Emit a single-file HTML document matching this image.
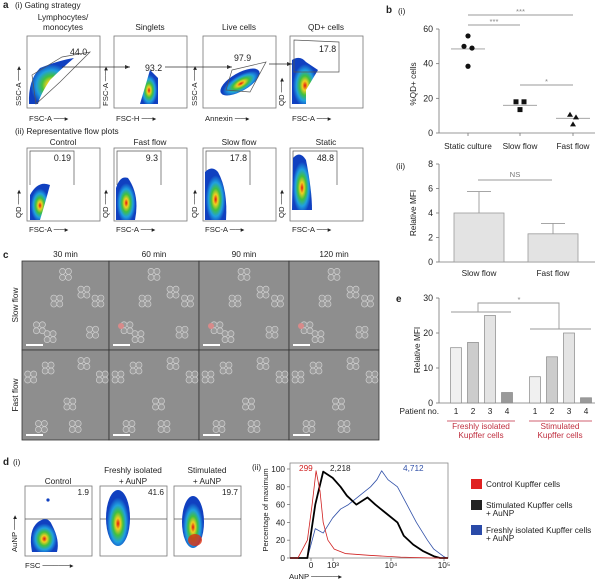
<!DOCTYPE html>
<html><head><meta charset="utf-8"><style>
html,body{margin:0;padding:0;background:#fff}
svg{display:block;font-family:"Liberation Sans",sans-serif}
</style></head><body>
<svg id="fig" width="600" height="582" viewBox="0 0 600 582" xmlns="http://www.w3.org/2000/svg">
<defs>
<radialGradient id="dens" cx="50%" cy="60%" r="55%">
<stop offset="0" stop-color="#e01010"/><stop offset="0.18" stop-color="#f0d020"/><stop offset="0.38" stop-color="#40c040"/><stop offset="0.6" stop-color="#20a0e0"/><stop offset="0.85" stop-color="#1040c0"/><stop offset="1" stop-color="#1040c0"/>
</radialGradient>
</defs>
<g id="static"></g>
<g id="panelC"></g>
<g id="panelB"></g>
<g id="panelE"></g>
<g id="panelD2"></g>
</svg>
<script>
// ---- panel b(i) data ----
const bCats = ["Static culture","Slow flow","Fast flow"];
const bStatic = [56, 50, 49, 38.5];
const bSlow = [18, 18, 13.5];
const bFast = [10.5, 9, 5];
const bMeans = [48.5, 16, 8.5];
const bTicks = [0, 20, 40, 60];
// ---- panel b(ii) data ----
const b2Cats = ["Slow flow","Fast flow"];
const b2Vals = [4.0, 2.3];
const b2Err = [1.75, 0.85];
const b2Ticks = [0, 2, 4, 6, 8];
// ---- panel e data ----
const ePatients = ["1","2","3","4"];
const eFresh = [15.8, 17.3, 25, 3];
const eStim = [7.5, 13.2, 20, 1.5];
const eTicks = [0, 10, 20, 30];
// ---- panel d(ii) histograms (x in 0..100 axis units) ----
const redX = [0, 5, 11, 14, 16.5, 19, 21, 24, 28, 35, 50, 70, 90, 100];
const redY = [0, 0, 20, 60, 98, 75, 40, 20, 10, 5, 3, 1, 0, 0];
const blackX = [0, 11, 16, 21, 27, 32, 36, 42, 49, 54, 61, 68, 72, 78, 84, 91, 95, 100];
const blackY = [0, 0, 60, 97, 90, 80, 70, 60, 68, 60, 50, 40, 25, 15, 8, 2, 0, 0];
const blueX = [0, 11, 16, 21, 27, 32, 37, 44, 51, 55, 58, 62, 68, 74, 80, 87, 91, 97, 99, 100];
const blueY = [0, 0, 33, 28, 45, 55, 60, 70, 80, 88, 98, 88, 80, 60, 40, 20, 10, 2, 0, 0];
const histTicks = [0, 20, 40, 60, 80, 100];

const NS = "http://www.w3.org/2000/svg";
function el(parent, tag, attrs, text){
  const e = document.createElementNS(NS, tag);
  for (const k in attrs) e.setAttribute(k, attrs[k]);
  if (text !== undefined) e.textContent = text;
  parent.appendChild(e);
  return e;
}
function T(parent, x, y, s, size, opts){
  opts = opts || {};
  const t = el(parent, "text", {x:x, y:y, "font-size":(size||9)*1.1, fill:opts.fill||"#222", "text-anchor":opts.anchor||"start"}, s);
  if (opts.rot) t.setAttribute("transform", `rotate(-90 ${x} ${y})`);
  if (opts.bold) t.setAttribute("font-weight","bold");
  
  
  return t;
}
const S = document.getElementById("static");

// ================= Panel a =================
T(S, 3, 8, "a", 9, {bold:true, name:'panel-a-letter'});
T(S, 15, 8, "(i) Gating strategy", 7.5, {name:'gating-title'});
const aBoxes = [27, 114, 203, 290];
const aTitles = [["Lymphocytes/","monocytes"],["Singlets"],["Live cells"],["QD+ cells"]];
const aX = ["FSC-A", "FSC-H", "Annexin", "FSC-A"];
const aY = ["SSC-A", "FSC-A", "SSC-A", "QD"];
aBoxes.forEach((x,i)=>{
  const g = el(S,"g",{});
  
  
  el(g,"rect",{x:x,y:36,width:73,height:72,fill:"#fff",stroke:"#777","stroke-width":0.8});
  if (aTitles[i].length===2){ T(g,x+36,20,aTitles[i][0],7.5,{anchor:"middle",name:'plot-title'}); T(g,x+36,30,aTitles[i][1],7.5,{anchor:"middle",name:'plot-title'}); }
  else T(g,x+36,30,aTitles[i][0],7.5,{anchor:"middle",name:'plot-title'});
  T(g,x+2,121,aX[i]+" ──▸",7,{name:'x-axis-label'});
  T(g,x-6,106,aY[i]+" ──▸",7,{rot:true,name:'y-axis-label'});
});
el(S,"path",{d:"M29 104 Q28 80 40 68 Q60 60 74 58 Q60 70 50 80 Q40 95 38 104 Z",fill:"url(#dens)"});
el(S,"path",{d:"M32 75 L62 57 L90 52 L60 82 L36 104 Z",fill:"none",stroke:"#555","stroke-width":0.7});
T(S,70,55,"44.0",8,{name:'gate-value'});
el(S,"path",{d:"M140 104 L150 70 L158 78 L158 104 Z",fill:"url(#dens)"});
T(S,145,71,"93.2",8,{name:'gate-value'});
el(S,"ellipse",{cx:240,cy:82,rx:22,ry:9,transform:"rotate(-30 240 82)",fill:"url(#dens)"});
el(S,"path",{d:"M232 70 L266 62 L250 92 L226 90 Z",fill:"none",stroke:"#555","stroke-width":0.7});
T(S,234,61,"97.9",8,{name:'gate-value'});
el(S,"path",{d:"M292 60 Q300 55 306 62 L318 70 Q312 80 306 90 L306 104 L292 104 Z",fill:"url(#dens)"});
el(S,"path",{d:"M294 72 L294 40 L339 42 L339 72 Z",fill:"none",stroke:"#555","stroke-width":0.7});
T(S,319,52,"17.8",8,{name:'gate-value'});
[[62,67,130],[165,67,232],[269,64,292]].forEach(a=>{
  el(S,"line",{x1:a[0],y1:a[1],x2:a[2],y2:a[1],stroke:"#333","stroke-width":0.8});
  el(S,"path",{d:`M${a[2]} ${a[1]} l-5 -2 l0 4 Z`,fill:"#333"});
});
T(S,15,134,"(ii) Representative flow plots",7.5,{name:'representative-title'});
const a2Titles = ["Control","Fast flow","Slow flow","Static"];
const a2Vals = ["0.19","9.3","17.8","48.8"];
aBoxes.forEach((x,i)=>{
  const g = el(S,"g",{});
  
  
  el(g,"rect",{x:x,y:148,width:73,height:73,fill:"#fff",stroke:"#777","stroke-width":0.8});
  T(g,x+36,145,a2Titles[i],7.5,{anchor:"middle",name:'plot-title'});
  el(g,"path",{d:`M${x+3} 185 L${x+3} 151 L${x+47} 151 L${x+47} 185`,fill:"none",stroke:"#555","stroke-width":0.7});
  T(g,x+44,161,a2Vals[i],8,{anchor:"end",name:'gate-value'});
  T(g,x+2,232,"FSC-A ──▸",7,{name:'x-axis-label'});
  T(g,x-6,218,"QD ──▸",7,{rot:true,name:'y-axis-label'});
});
el(S,"path",{d:"M30 220 L30 195 Q38 180 50 185 Q46 200 40 220 Z",fill:"url(#dens)"});
el(S,"path",{d:"M116 220 L116 188 Q120 175 128 178 Q140 195 135 220 Z",fill:"url(#dens)"});
el(S,"path",{d:"M205 220 L205 172 Q212 165 218 172 Q228 190 226 220 Z",fill:"url(#dens)"});
el(S,"path",{d:"M292 210 L293 158 Q300 150 306 160 Q312 190 312 210 Z",fill:"url(#dens)"});

// ================= Panel c =================
const C = document.getElementById("panelC");
T(C,3,258,"c",9,{bold:true,name:'panel-c-letter'});
const cCols = [22,109,199,289,379];
const cTimes = ["30 min","60 min","90 min","120 min"];
for (let c=0;c<4;c++){
  T(C,(cCols[c]+cCols[c+1])/2,257,cTimes[c],7.5,{anchor:"middle",name:'time-heading'});
  for (let r=0;r<2;r++){
    const y0 = r===0?261:350, h = r===0?89:90;
    const w = cCols[c+1]-cCols[c];
    const g = el(C,"g",{});
    
    
    el(g,"rect",{x:cCols[c],y:y0,width:w,height:h,fill:"#8e8e8e",stroke:"#333","stroke-width":0.8});
    const seeds = r===0 ? [[0.5,0.15],[0.7,0.35],[0.85,0.45],[0.2,0.75],[0.8,0.8],[0.3,0.85],[0.4,0.45]] : [[0.3,0.2],[0.7,0.15],[0.2,0.85],[0.55,0.6],[0.6,0.85],[0.9,0.3],[0.1,0.3]];
    seeds.forEach((s,k)=>{
      const cx = cCols[c]+s[0]*w, cy = y0+s[1]*h;
      for (let q=0;q<4;q++){
        el(g,"circle",{cx:cx+((q%2)*6-3)+(k%3),cy:cy+(q>1?3:-3),r:3,fill:"#9a9a9a",stroke:"#d0d0d0","stroke-width":0.7});
      }
    });
    if (r===0 && c>0) el(g,"circle",{cx:cCols[c]+12,cy:y0+65,r:3,fill:"#d88a8a"});
    el(g,"rect",{x:cCols[c]+4,y:y0+h-6,width:17,height:2,fill:"#fff"});
  }
}
T(C,18,305,"Slow flow",7.5,{anchor:"middle",rot:true,name:'row-label-slow'});
T(C,18,395,"Fast flow",7.5,{anchor:"middle",rot:true,name:'row-label-fast'});

// ================= Panel d(i) =================
T(S,3,465,"d",9,{bold:true,name:'panel-d-letter'});
T(S,13,465,"(i)",7.5,{name:'d-i-label'});
const dBoxes = [25,100,174];
const dT1 = ["","Freshly isolated","Stimulated"];
const dT2 = ["Control","+ AuNP","+ AuNP"];
const dVals = ["1.9","41.6","19.7"];
dBoxes.forEach((x,i)=>{
  const g = el(S,"g",{});
  
  
  el(g,"rect",{x:x,y:486,width:67,height:70,fill:"#fff",stroke:"#777","stroke-width":0.8});
  el(g,"line",{x1:x,y1:519,x2:x+67,y2:519,stroke:"#555","stroke-width":0.7});
  if (dT1[i]) T(g,x+33,473,dT1[i],7.5,{anchor:"middle",name:'plot-title'});
  T(g,x+33,484,dT2[i],7.5,{anchor:"middle",name:'plot-title'});
  T(g,x+64,495,dVals[i],7.5,{anchor:"end",name:'gate-value'});
});
el(S,"path",{d:"M32 552 Q28 530 38 522 Q48 515 52 525 Q60 540 57 552 Z",fill:"url(#dens)"});
el(S,"circle",{cx:48,cy:500,r:1.6,fill:"#1040c0"});
el(S,"ellipse",{cx:118,cy:518,rx:12,ry:28,fill:"url(#dens)"});
el(S,"ellipse",{cx:193,cy:522,rx:11,ry:26,fill:"url(#dens)"});
el(S,"ellipse",{cx:195,cy:540,rx:7,ry:6,fill:"#e03010",opacity:0.8});
T(S,17,552,"AuNP ──▸",7,{rot:true,name:'y-axis-label'});
T(S,25,568,"FSC ─────▸",7,{name:'x-axis-label'});

// ================= Panel b =================
const B = document.getElementById("panelB");
T(B,386,13,"b",9,{bold:true,name:'panel-b-letter'});
T(B,398,14,"(i)",7.5,{name:'b-i-label'});
const byScale = v => 133 - v*104/60;
const bxPos = i => [468,520,573][i];
el(B,"line",{x1:439,y1:29,x2:439,y2:133,stroke:"#777","stroke-width":0.8});
el(B,"line",{x1:439,y1:133,x2:595,y2:133,stroke:"#777","stroke-width":0.8});
bTicks.forEach(t=>{
  el(B,"line",{x1:436,y1:byScale(t),x2:439,y2:byScale(t),stroke:"#777","stroke-width":0.8});
  T(B,433,byScale(t)+3,String(t),8,{anchor:"end",name:'y-tick'});
});
bCats.forEach((c,i)=>{
  el(B,"line",{x1:bxPos(i),y1:133,x2:bxPos(i),y2:136,stroke:"#777","stroke-width":0.8});
  T(B,bxPos(i),149,c,7.5,{anchor:"middle",name:'x-tick'});
  el(B,"line",{x1:bxPos(i)-17,y1:byScale(bMeans[i]),x2:bxPos(i)+17,y2:byScale(bMeans[i]),stroke:"#999","stroke-width":0.9});
});
T(B,416,84,"%QD+ cells",7.5,{anchor:"middle",rot:true,name:'y-axis-title'});
const stOff=[0,-4,4,0], slOff=[-4,4,0], faOff=[-3,3,0];
bStatic.forEach((v,i)=>{ const c=el(B,"circle",{cx:bxPos(0)+stOff[i],cy:byScale(v),r:2.6,fill:"#111"});   });
bSlow.forEach((v,i)=>{ const c=el(B,"rect",{x:bxPos(1)+slOff[i]-2.5,y:byScale(v)-2.5,width:5,height:5,fill:"#111"});   });
bFast.forEach((v,i)=>{ const x=bxPos(2)+faOff[i], y=byScale(v); const c=el(B,"path",{d:`M${x} ${y-3} L${x+3} ${y+2} L${x-3} ${y+2} Z`,fill:"#111"});   });
[[468,573,15,"***"],[468,520,25,"***"],[520,573,85,"*"]].forEach(s=>{
  el(B,"line",{x1:s[0],y1:s[2],x2:s[1],y2:s[2],stroke:"#999","stroke-width":0.9});
  T(B,(s[0]+s[1])/2,s[2]-1,s[3],7,{anchor:"middle",fill:"#888",name:'significance'});
});
T(B,396,169,"(ii)",7.5,{name:'b-ii-label'});
const b2Scale = v => 262 - v*98/8;
const b2x = i => [454,528][i];
el(B,"line",{x1:439,y1:164,x2:439,y2:262,stroke:"#777","stroke-width":0.8});
el(B,"line",{x1:439,y1:262,x2:595,y2:262,stroke:"#777","stroke-width":0.8});
b2Ticks.forEach(t=>{
  el(B,"line",{x1:436,y1:b2Scale(t),x2:439,y2:b2Scale(t),stroke:"#777","stroke-width":0.8});
  T(B,433,b2Scale(t)+3,String(t),8,{anchor:"end",name:'y-tick'});
});
T(B,416,213,"Relative  MFI",7.5,{anchor:"middle",rot:true,name:'y-axis-title'});
b2Vals.forEach((v,i)=>{
  const x=b2x(i);
  el(B,"line",{x1:x+25,y1:b2Scale(v+b2Err[i]),x2:x+25,y2:b2Scale(v),stroke:"#999","stroke-width":0.9});
  el(B,"line",{x1:x+13,y1:b2Scale(v+b2Err[i]),x2:x+37,y2:b2Scale(v+b2Err[i]),stroke:"#999","stroke-width":0.9});
  const r=el(B,"rect",{x:x,y:b2Scale(v),width:50,height:262-b2Scale(v),fill:"#e3e3e3",stroke:"#999","stroke-width":0.8});
  
  
  T(B,x+25,276,b2Cats[i],7.5,{anchor:"middle",name:'x-tick'});
});
el(B,"line",{x1:478,y1:180,x2:552,y2:180,stroke:"#999","stroke-width":0.9});
T(B,515,177,"NS",7,{anchor:"middle",fill:"#777",name:'ns-label'});

// ================= Panel e =================
const E = document.getElementById("panelE");
T(E,396,302,"e",9,{bold:true,name:'panel-e-letter'});
const eScale = v => 403 - v*105/30;
const eX1 = [456,473,490,507], eX2 = [535,552,569,586];
const eFill = ["#f0f0f0","#cccccc","#e4e4e4","#9a9a9a"];
el(E,"line",{x1:439,y1:298,x2:439,y2:403,stroke:"#777","stroke-width":0.8});
el(E,"line",{x1:439,y1:403,x2:595,y2:403,stroke:"#777","stroke-width":0.8});
eTicks.forEach(t=>{
  el(E,"line",{x1:436,y1:eScale(t),x2:439,y2:eScale(t),stroke:"#777","stroke-width":0.8});
  T(E,433,eScale(t)+3,String(t),8,{anchor:"end",name:'y-tick'});
});
T(E,420,350,"Relative MFI",7.5,{anchor:"middle",rot:true,name:'y-axis-title'});
function eBars(vals, xs, grp){
  vals.forEach((v,i)=>{
    const r=el(E,"rect",{x:xs[i]-5.5,y:eScale(v),width:11,height:403-eScale(v),fill:eFill[i],stroke:"#888","stroke-width":0.7});
    
    
    T(E,xs[i],414,ePatients[i],7.5,{anchor:"middle",name:'x-tick'});
  });
}
eBars(eFresh,eX1,'fresh'); eBars(eStim,eX2,'stimulated');
T(E,439,414,"Patient no.",7.5,{anchor:"end",name:'x-axis-title'});
el(E,"line",{x1:447,y1:421,x2:515,y2:421,stroke:"#d06070","stroke-width":0.9});
el(E,"line",{x1:529,y1:421,x2:592,y2:421,stroke:"#d06070","stroke-width":0.9});
T(E,481,429,"Freshly isolated",7.5,{anchor:"middle",fill:"#c03040",name:'group-label-fresh'});
T(E,481,438,"Kupffer cells",7.5,{anchor:"middle",fill:"#c03040",name:'group-label-fresh'});
T(E,560,429,"Stimulated",7.5,{anchor:"middle",fill:"#c03040",name:'group-label-stim'});
T(E,560,438,"Kupffer cells",7.5,{anchor:"middle",fill:"#c03040",name:'group-label-stim'});
el(E,"path",{d:"M451 312 L511 312 M530 329 L591 329 M478 312 L478 303 L559 303 L559 329",fill:"none",stroke:"#999","stroke-width":0.9});
T(E,519,302,"*",7,{anchor:"middle",fill:"#888",name:'significance'});

// ================= Panel d(ii) =================
const D = document.getElementById("panelD2");
T(D,252,470,"(ii)",7.5,{name:'d-ii-label'});
const hx = v => 290 + v*158/100;
const hy = v => 558 - v*89/100;
el(D,"rect",{x:290,y:463,width:158,height:95,fill:"#fff",stroke:"#888","stroke-width":0.8});
histTicks.forEach(t=>{
  el(D,"line",{x1:287,y1:hy(t),x2:290,y2:hy(t),stroke:"#777","stroke-width":0.8});
  T(D,285,hy(t)+3,String(t),7.5,{anchor:"end",name:'y-tick'});
});
[[311,"0"],[333,"10³"],[391,"10⁴"],[444,"10⁵"]].forEach(t=>{
  el(D,"line",{x1:t[0],y1:558,x2:t[0],y2:561,stroke:"#777","stroke-width":0.8});
  T(D,t[0],568,t[1],7.5,{anchor:"middle",name:'x-tick'});
});
T(D,289,579,"AuNP ─────▸",7,{name:'x-axis-title'});
T(D,268,510,"Percentage of maximum",7,{anchor:"middle",rot:true,name:'y-axis-title'});
function line(xs,ys,col,w,name){
  const p = el(D,"polyline",{points:xs.map((x,i)=>hx(x)+","+hy(ys[i])).join(" "),fill:"none",stroke:col,"stroke-width":w,"stroke-linejoin":"round"});
  
  
}
line(blueX,blueY,"#3050a8",0.8,'histogram-fresh');
line(blackX,blackY,"#000",1.8,'histogram-stimulated');
line(redX,redY,"#d02020",0.8,'histogram-control');
T(D,299,471,"299",7.5,{fill:"#d02020",name:'median-control'});
T(D,330,471,"2,218",7.5,{fill:"#222",name:'median-stimulated'});
T(D,403,471,"4,712",7.5,{fill:"#3050a8",name:'median-fresh'});
const legC=["#e02020","#222","#2a4aa8"];
const legT=[["Control Kupffer cells"],["Stimulated Kupffer cells","+ AuNP"],["Freshly isolated Kupffer cells","+ AuNP"]];
const legY=[485,506,531];
legC.forEach((c,i)=>{
  const g=el(D,"g",{});
  
  
  el(g,"rect",{x:471,y:legY[i]-6,width:11,height:10,fill:c});
  legT[i].forEach((s,j)=>T(g,486,legY[i]+2+j*8,s,7.5,{name:'legend-text'}));
});
</script>
</body></html>
